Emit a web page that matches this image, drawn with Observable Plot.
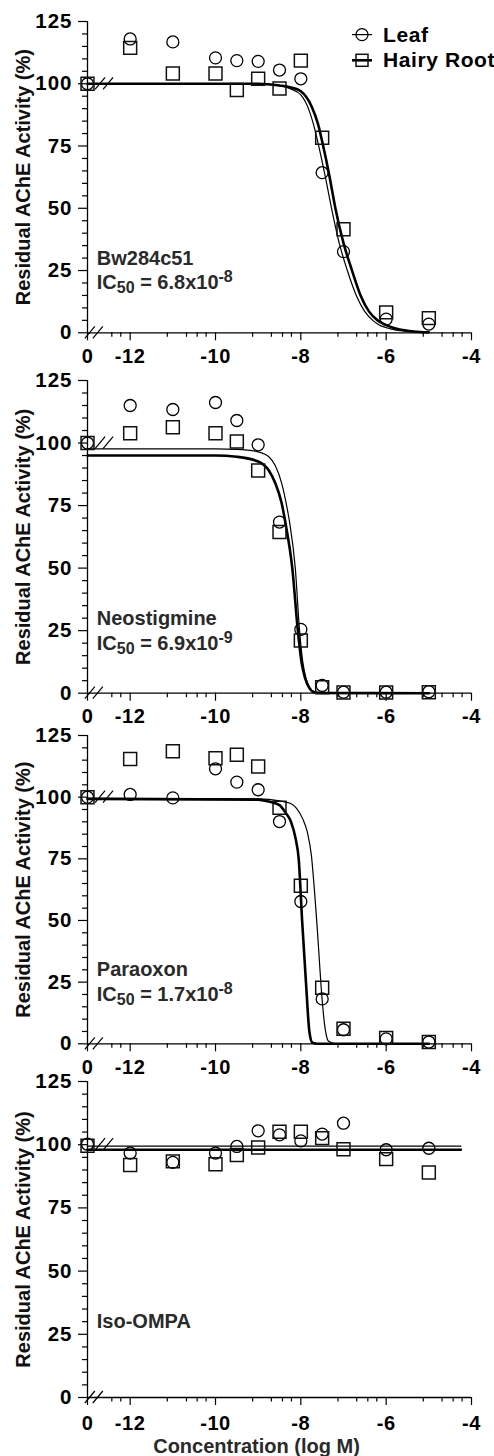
<!DOCTYPE html>
<html><head><meta charset="utf-8">
<script src="https://cdn.jsdelivr.net/npm/d3@7"></script>
<script src="https://cdn.jsdelivr.net/npm/@observablehq/plot@0.6"></script>
<style>
html,body{margin:0;padding:0;background:#fff;}
#chart{position:relative;width:494px;height:1456px;overflow:hidden;background:#fff;}
#chart svg{position:absolute;left:0;}
</style></head><body><div id="chart"></div>
<script>
// ---- data ----
const logConc = [-13, -12, -11, -10, -9.5, -9, -8.5, -8, -7.5, -7, -6, -5]; // -13 = control ("0")
const compounds = ["Bw284c51", "Neostigmine", "Paraoxon", "Iso-OMPA"];
const ic50Mantissa = ["6.8x10", "6.9x10", "1.7x10", null];
const ic50Exponent = ["-8", "-9", "-8", null];
const seriesNames = ["Leaf", "Hairy Root"];

const leafBw   = [100, 118.0, 116.8, 110.4, 109.3, 109.0, 105.5, 102.0, 64.3, 32.6, 5.5, 3.5];
const rootBw   = [100, 114.4, 104.1, 104.1, 97.5, 102.0, 98.1, 109.3, 78.3, 41.6, 8.2, 5.9];
const leafNeo  = [100, 115.0, 113.4, 116.2, 109.0, 99.3, 68.4, 25.5, 3.1, 0.4, 0.4, 0.6];
const rootNeo  = [100, 103.9, 106.3, 103.9, 100.6, 89.0, 64.4, 21.1, 2.4, 0.3, 0.3, 0.4];
const leafPara = [100, 101.1, 99.7, 111.5, 106.1, 103.0, 90.1, 57.7, 18.2, 5.7, 2.0, 0.7];
const rootPara = [100, 115.5, 118.6, 115.8, 117.2, 112.4, 95.7, 64.1, 22.7, 6.1, 2.4, 0.7];
const leafIso  = [100.2, 96.7, 93.0, 96.7, 99.3, 105.5, 103.9, 101.5, 104.2, 108.5, 98.0, 98.6];
const rootIso  = [99.6, 92.0, 93.4, 92.3, 95.9, 98.9, 105.1, 105.1, 102.6, 98.2, 94.3, 89.0];

// fitted curves: [log M, %]
const fitLeafBw = [[-13,100],[-9,100],[-8.5,99.2],[-8.25,98],[-8,95.5],[-7.8,89],[-7.7,83.5],[-7.58,75],[-7.43,63],[-7.28,50],[-7.1,36],[-6.91,25],[-6.7,15],[-6.5,8.5],[-6.3,4.8],[-6.21,3.6],[-5.9,1.6],[-5.5,0.6],[-5.2,0.2],[-5,0.1]];
const fitRootBw = [[-13,100],[-9,100],[-8.5,99.3],[-8.25,98.6],[-8,97],[-7.75,91],[-7.6,84],[-7.476,75],[-7.33,63],[-7.19,50],[-7,36],[-6.8,25],[-6.6,15],[-6.4,8.5],[-6.2,5],[-6.06,3.6],[-5.8,1.8],[-5.5,0.8],[-5.2,0.3],[-5,0.2]];
const fitLeafNeo = [[-13,97.7],[-10,97.7],[-9.5,97.5],[-9,96.5],[-8.75,94.5],[-8.6,91],[-8.45,84],[-8.3,72],[-8.26,68],[-8.13,50],[-8.03,25],[-7.95,12],[-7.88,6],[-7.8,2.5],[-7.7,0.7],[-7.5,0.05],[-5,0]];
const fitRootNeo = [[-13,95],[-10,95],[-9.5,94.5],[-9,92.6],[-8.75,89],[-8.6,84],[-8.45,76],[-8.36,68],[-8.2,50],[-8.07,25],[-7.98,12],[-7.9,6],[-7.8,2],[-7.7,0.5],[-7.5,0.05],[-5,0]];
const fitLeafPara = [[-13,99.5],[-9,99.3],[-8.5,98.5],[-8.25,97.5],[-8.1,95.5],[-7.95,91],[-7.85,86],[-7.75,76],[-7.68,62],[-7.62,48],[-7.57,35],[-7.52,22],[-7.47,12],[-7.42,5],[-7.35,1],[-7.2,0.1],[-5,0]];
const fitRootPara = [[-13,99.3],[-9,99],[-8.75,98.2],[-8.5,96.8],[-8.35,93.5],[-8.23,90],[-8.12,83],[-8.05,75],[-7.97,50],[-7.88,25],[-7.8,5],[-7.73,0.5],[-7.6,0],[-5,0]];
const fitLeafIso = [[-13,99.4],[-4.25,99.4]];
const fitRootIso = [[-13,98.0],[-4.25,98.0]];

const xMajorTicks = [-13, -12, -10, -8, -6, -4];
const xMinorTicks = [-12.43, -12.22, -11.13, -10.68, -10.43, -10.22, -9.13, -8.69, -8.43, -8.22, -7.13, -6.69, -6.43, -6.22, -5.13, -4.69, -4.43, -4.22];
const yMajorTicks = [0, 25, 50, 75, 100, 125];
const yMinorTicks = [5, 10, 15, 20, 30, 35, 40, 45, 55, 60, 65, 70, 80, 85, 90, 95, 105, 110, 115, 120];
const axisBreaks = [[-12.84, 0], [-12.6, 100]];
const yTitle = "Residual AChE Activity (%)";
const xTitle = "Concentration (log M)";

// ---- build ----
const leafData = [leafBw, leafNeo, leafPara, leafIso];
const rootData = [rootBw, rootNeo, rootPara, rootIso];
const fitLeaf = [fitLeafBw, fitLeafNeo, fitLeafPara, fitLeafIso];
const fitRoot = [fitRootBw, fitRootNeo, fitRootPara, fitRootIso];

const frameTops = [20.7, 380, 735, 1080.7];
const frameBottoms = [332, 692.7, 1043.3, 1396.7];
const FONT = "'Liberation Sans', Arial, Helvetica, sans-serif";

function breakMark(points) {
  return (index, {x, y}) => {
    const g = d3.create("svg:g").attr("stroke", "#000").attr("stroke-width", 1.2).attr("fill", "none");
    for (const [bx, by] of points) {
      const cx = x(bx), cy = y(by);
      for (const off of [-4, 4]) {
        g.append("line").attr("x1", cx + off - 5).attr("y1", cy + 6).attr("x2", cx + off + 5).attr("y2", cy - 6);
      }
    }
    return g.node();
  };
}

function labelMark(name, mant, exp) {
  return (index, {x, y}) => {
    const g = d3.create("svg:g").attr("fill", "#2a2a2a").attr("font-size", 20).attr("font-weight", "bold").attr("text-anchor", "start");
    g.append("text").attr("x", x(-12.77)).attr("y", y(27.2)).text(name);
    if (mant) {
      const t = g.append("text").attr("x", x(-12.77)).attr("y", y(17.2));
      t.append("tspan").text("IC");
      t.append("tspan").attr("font-size", 16).attr("dy", 4).text("50");
      t.append("tspan").attr("dy", -4).text(" = " + mant);
      t.append("tspan").attr("font-size", 16).attr("dy", -7).text(exp);
    }
    return g.node();
  };
}

function legendMark(names) {
  return (index, scales, values, dims) => {
    const g = d3.create("svg:g").attr("font-size", 21).attr("font-weight", "bold").attr("fill", "#000").attr("text-anchor", "start");
    const top = dims.marginTop;
    const rows = [
      {name: names[0], cy: top + 13.6, by: top + 21, sw: 1.2, shape: "circle"},
      {name: names[1], cy: top + 39.3, by: top + 46.5, sw: 2.6, shape: "square"}
    ];
    for (const r of rows) {
      g.append("line").attr("x1", 352).attr("x2", 372).attr("y1", r.cy).attr("y2", r.cy)
        .attr("stroke", "#000").attr("stroke-width", r.sw);
      if (r.shape === "circle") {
        g.append("circle").attr("cx", 362).attr("cy", r.cy).attr("r", 6).attr("fill", "none").attr("stroke", "#000").attr("stroke-width", 1.3);
      } else {
        g.append("rect").attr("x", 356).attr("y", r.cy - 6).attr("width", 12).attr("height", 12).attr("fill", "none").attr("stroke", "#111").attr("stroke-width", 1.5);
      }
      g.append("text").attr("x", 383).attr("y", r.by).attr("letter-spacing", 0.6).text(r.name);
    }
    return g.node();
  };
}

const chart = document.getElementById("chart");
for (let i = 0; i < 4; i++) {
  const mt = 20, mb = i === 3 ? 62 : 45;
  const height = frameBottoms[i] - frameTops[i] + mt + mb;
  const leaf = logConc.map((x, k) => ({x, y: leafData[i][k]}));
  const root = logConc.map((x, k) => ({x, y: rootData[i][k]}));
  const marks = [
    Plot.ruleX([-13], {stroke: "#000", strokeWidth: 1.3}),
    Plot.ruleY([0], {stroke: "#000", strokeWidth: 1.3}),
    Plot.axisX(xMajorTicks, {tickSize: 8, tickPadding: i === 3 ? 10 : 8, tickFormat: d => d === -13 ? "0" : String(d), label: null, fontSize: 20, fontWeight: "bold", strokeWidth: 1.2}),
    Plot.axisX(xMinorTicks, {tickSize: 4.5, tickFormat: () => "", label: null, strokeWidth: 1.2}),
    Plot.axisY(yMajorTicks, {tickSize: 9, tickPadding: 6, tickFormat: d => String(d), label: null, fontSize: 20.5, fontWeight: "bold", strokeWidth: 1.2}),
    Plot.axisY(yMinorTicks, {tickSize: 5, tickFormat: () => "", label: null, strokeWidth: 1.2}),
    Plot.text([yTitle], {text: d => d, frameAnchor: "left", textAnchor: "middle", rotate: -90, dx: -64, fontSize: 20, fontWeight: "bold", fill: "#111"}),
    Plot.line(fitLeaf[i], {x: d => d[0], y: d => d[1], curve: "monotone-x", stroke: "#000", strokeWidth: 1.2}),
    Plot.line(fitRoot[i], {x: d => d[0], y: d => d[1], curve: "monotone-x", stroke: "#000", strokeWidth: 2.6}),
    breakMark(axisBreaks),
    Plot.dot(leaf, {x: "x", y: "y", symbol: "circle", r: 6, fill: "none", stroke: "#000", strokeWidth: 1.3}),
    Plot.dot(root, {x: "x", y: "y", symbol: "square", r: 7.3, fill: "none", stroke: "#111", strokeWidth: 1.5}),
    labelMark(compounds[i], ic50Mantissa[i], ic50Exponent[i])
  ];
  if (i === 0) marks.push(legendMark(seriesNames));
  if (i === 3) marks.push(Plot.text([xTitle], {text: d => d, frameAnchor: "bottom", textAnchor: "middle", dx: -23, dy: 55, fontSize: 20, fontWeight: "bold", fill: "#2a2a2a"}));
  const svg = Plot.plot({
    width: 494, height,
    marginTop: mt, marginBottom: mb, marginLeft: 87, marginRight: 23,
    x: {domain: [-13, -4], label: null},
    y: {domain: [0, 125], label: null},
    style: {background: "transparent", overflow: "visible", fontFamily: FONT, fontSize: "20px", fontWeight: "bold", color: "#000"},
    marks
  });
  svg.querySelectorAll('[aria-label="y-axis tick label"] text').forEach(t => t.setAttribute("letter-spacing", "1"));
  svg.querySelectorAll('[aria-label="x-axis tick label"] text').forEach(t => t.setAttribute("letter-spacing", "0.6"));
  svg.style.top = (frameTops[i] - mt) + "px";
  chart.appendChild(svg);
}
</script></body></html>
